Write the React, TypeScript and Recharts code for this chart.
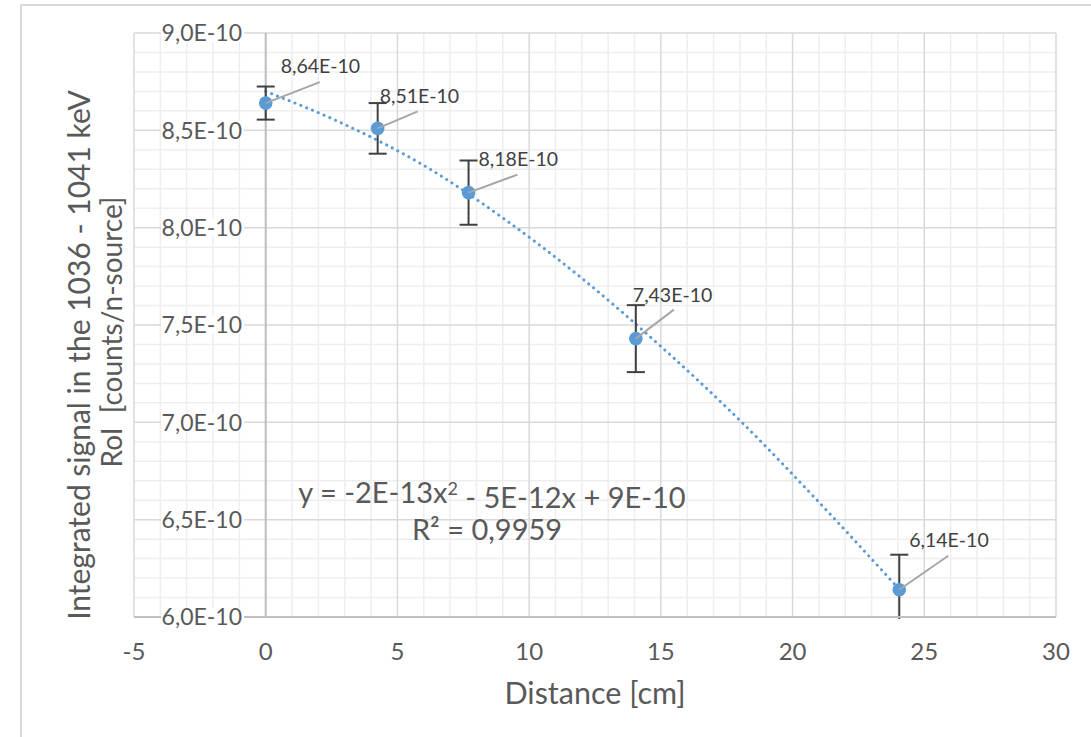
import React from 'react'
import { ComposedChart, XAxis, YAxis, CartesianGrid, Scatter, Line, ErrorBar, ReferenceLine, Customized } from 'recharts'

// measured points
const distance = [0, 4.25, 7.7, 14.05, 24.05]
const signal = [8.64e-10, 8.51e-10, 8.18e-10, 7.43e-10, 6.14e-10]
const signalError = [0.085e-10, 0.13e-10, 0.165e-10, 0.172e-10, 0.18e-10]

// polynomial trendline
const trendX = [0, 3, 6, 9, 12, 15, 18, 21, 24]
const trendY = [8.70e-10, 8.53e-10, 8.32e-10, 8.05e-10, 7.74e-10, 7.39e-10, 7.01e-10, 6.59e-10, 6.15e-10]

const xTicks = [-5, 0, 5, 10, 15, 20, 25, 30]
const yTicks = [6.0e-10, 6.5e-10, 7.0e-10, 7.5e-10, 8.0e-10, 8.5e-10, 9.0e-10]

const xMinor: number[] = []
for (let v = -4; v < 30; v++) if (v % 5 !== 0) xMinor.push(v)
const yMinor: number[] = []
for (let k = 61; k < 90; k++) if (k % 5 !== 0) yMinor.push(k / 10 * 1e-10)

// label placement per point (dx/dy from marker centre), moved by hand in the original
const labelOffsets = [
  { tx: 15, ty: -37, lx: 54, ly: -21 },
  { tx: 2, ty: -32, lx: 40, ly: -17 },
  { tx: 10, ty: -34, lx: 49, ly: -18 },
  { tx: -3, ty: -44, lx: 38, ly: -29 },
  { tx: 10, ty: -50, lx: 49, ly: -34 },
]

const points = distance.map((x, i) => ({ x, y: signal[i], err: signalError[i] }))
const trend = trendX.map((x, i) => ({ x, y: trendY[i] }))

const FONT = 'Lato, "Open Sans", sans-serif'
const TEXT = '#595959'
const BLUE = '#5B9BD5'

const fmt = (v: number, d: number) => (v * 1e10).toFixed(d).replace('.', ',') + 'E-10'

function PointShape(props: any) {
  const { cx, cy, payload } = props
  const i = distance.indexOf(payload.x)
  const o = labelOffsets[i] || labelOffsets[0]
  return (
    <g>
      <circle cx={cx} cy={cy} r={6.8} fill={BLUE} />
      <line x1={cx} y1={cy} x2={cx + o.lx} y2={cy + o.ly} stroke="#a6a6a6" strokeWidth={2} />
      <text x={cx + o.tx} y={cy + o.ty} dy="0.36em" fill="#404040" fontSize={19.5} fontFamily={FONT}>
        {fmt(payload.y, 2)}
      </text>
    </g>
  )
}

function YTick(props: any) {
  const { y, payload } = props
  return (
    <g>
      <rect x={161} y={y - 9} width={83} height={18} fill="#fff" />
      <text x={242} y={y} dy="0.36em" textAnchor="end" fill={TEXT} fontSize={23} fontFamily={FONT}>
        {fmt(payload.value, 1)}
      </text>
    </g>
  )
}

function XTick(props: any) {
  const { x, payload } = props
  return (
    <text x={x} y={651} dy="0.36em" textAnchor="middle" fill={TEXT} fontSize={24} fontFamily={FONT}>
      {payload.value}
    </text>
  )
}

function Titles() {
  return (
    <g fontFamily={FONT} fill={TEXT}>
      <text x={595} y={693} dy="0.36em" textAnchor="middle" fontSize={30.5}>Distance [cm]</text>
      <text transform="translate(79,355) rotate(-90)" dy="0.36em" textAnchor="middle" fontSize={30}>
        Integrated signal in the 1036 - 1041 keV
      </text>
      <text transform="translate(112,332) rotate(-90)" dy="0.36em" textAnchor="middle" fontSize={28} style={{ whiteSpace: 'pre' }}>
        {'RoI  [counts/n-source]'}
      </text>
      <text x={492} y={493} dy="0.36em" textAnchor="middle" fontSize={29}>
        y = -2E-13x<tspan dy="-0.45em" fontSize={18}>2</tspan><tspan dy="0.45em"> - 5E-12x + 9E-10</tspan>
      </text>
      <text x={487} y={530} dy="0.36em" textAnchor="middle" fontSize={29}>R² = 0,9959</text>
    </g>
  )
}

export default function App() {
  return (
    <div style={{ position: 'absolute', left: 0, top: 0, width: 1091, height: 737, overflow: 'hidden', background: '#fff' }}>
      <div style={{ position: 'absolute', left: 20, top: 4, width: 1200, height: 900, border: '2px solid #d9d9d9', boxSizing: 'border-box' }} />
      <div style={{ position: 'absolute', left: 0, top: 0 }}>
        <ComposedChart width={1091} height={737} margin={{ top: 33, right: 35, bottom: 60, left: 133 }}>
          <CartesianGrid
            stroke="#eeeeee"
            strokeWidth={1.5}
            verticalCoordinatesGenerator={({ offset }: any) => xMinor.map(v => offset.left + ((v + 5) / 35) * offset.width)}
            horizontalCoordinatesGenerator={({ offset }: any) => yMinor.map(v => offset.top + ((9e-10 - v) / 3e-10) * offset.height)}
          />
          <CartesianGrid stroke="#d9d9d9" strokeWidth={1.5} />
          <XAxis
            type="number"
            dataKey="x"
            domain={[-5, 30]}
            ticks={xTicks}
            height={60}
            tickLine={false}
            tickSize={0}
            axisLine={false}
            tick={<XTick />}
            interval={0}
          />
          <YAxis
            type="number"
            domain={[6e-10, 9e-10]}
            ticks={yTicks}
            width={1}
            allowDataOverflow
            axisLine={false}
            tickLine={false}
            tick={<YTick />}
            interval={0}
          />
          <ReferenceLine x={0} stroke="#bfbfbf" strokeWidth={2} />
          <Line
            data={trend}
            dataKey="y"
            type="monotone"
            stroke={BLUE}
            strokeWidth={3}
            strokeDasharray="0.1 6.2"
            strokeLinecap="round"
            dot={false}
            activeDot={false}
            isAnimationActive={false}
          />
          <Scatter data={points} dataKey="y" shape={PointShape} isAnimationActive={false}>
            <ErrorBar dataKey="err" direction="y" width={9} stroke="#404040" strokeWidth={2} />
          </Scatter>
          <Customized component={Titles} />
          <ReferenceLine y={6e-10} stroke="#bfbfbf" strokeWidth={2} />
        </ComposedChart>
      </div>
      {/* the plot clips error bars at the bottom of the value axis */}
      <div style={{ position: 'absolute', left: 252, top: 619, width: 820, height: 20, background: '#fff' }} />
    </div>
  )
}
